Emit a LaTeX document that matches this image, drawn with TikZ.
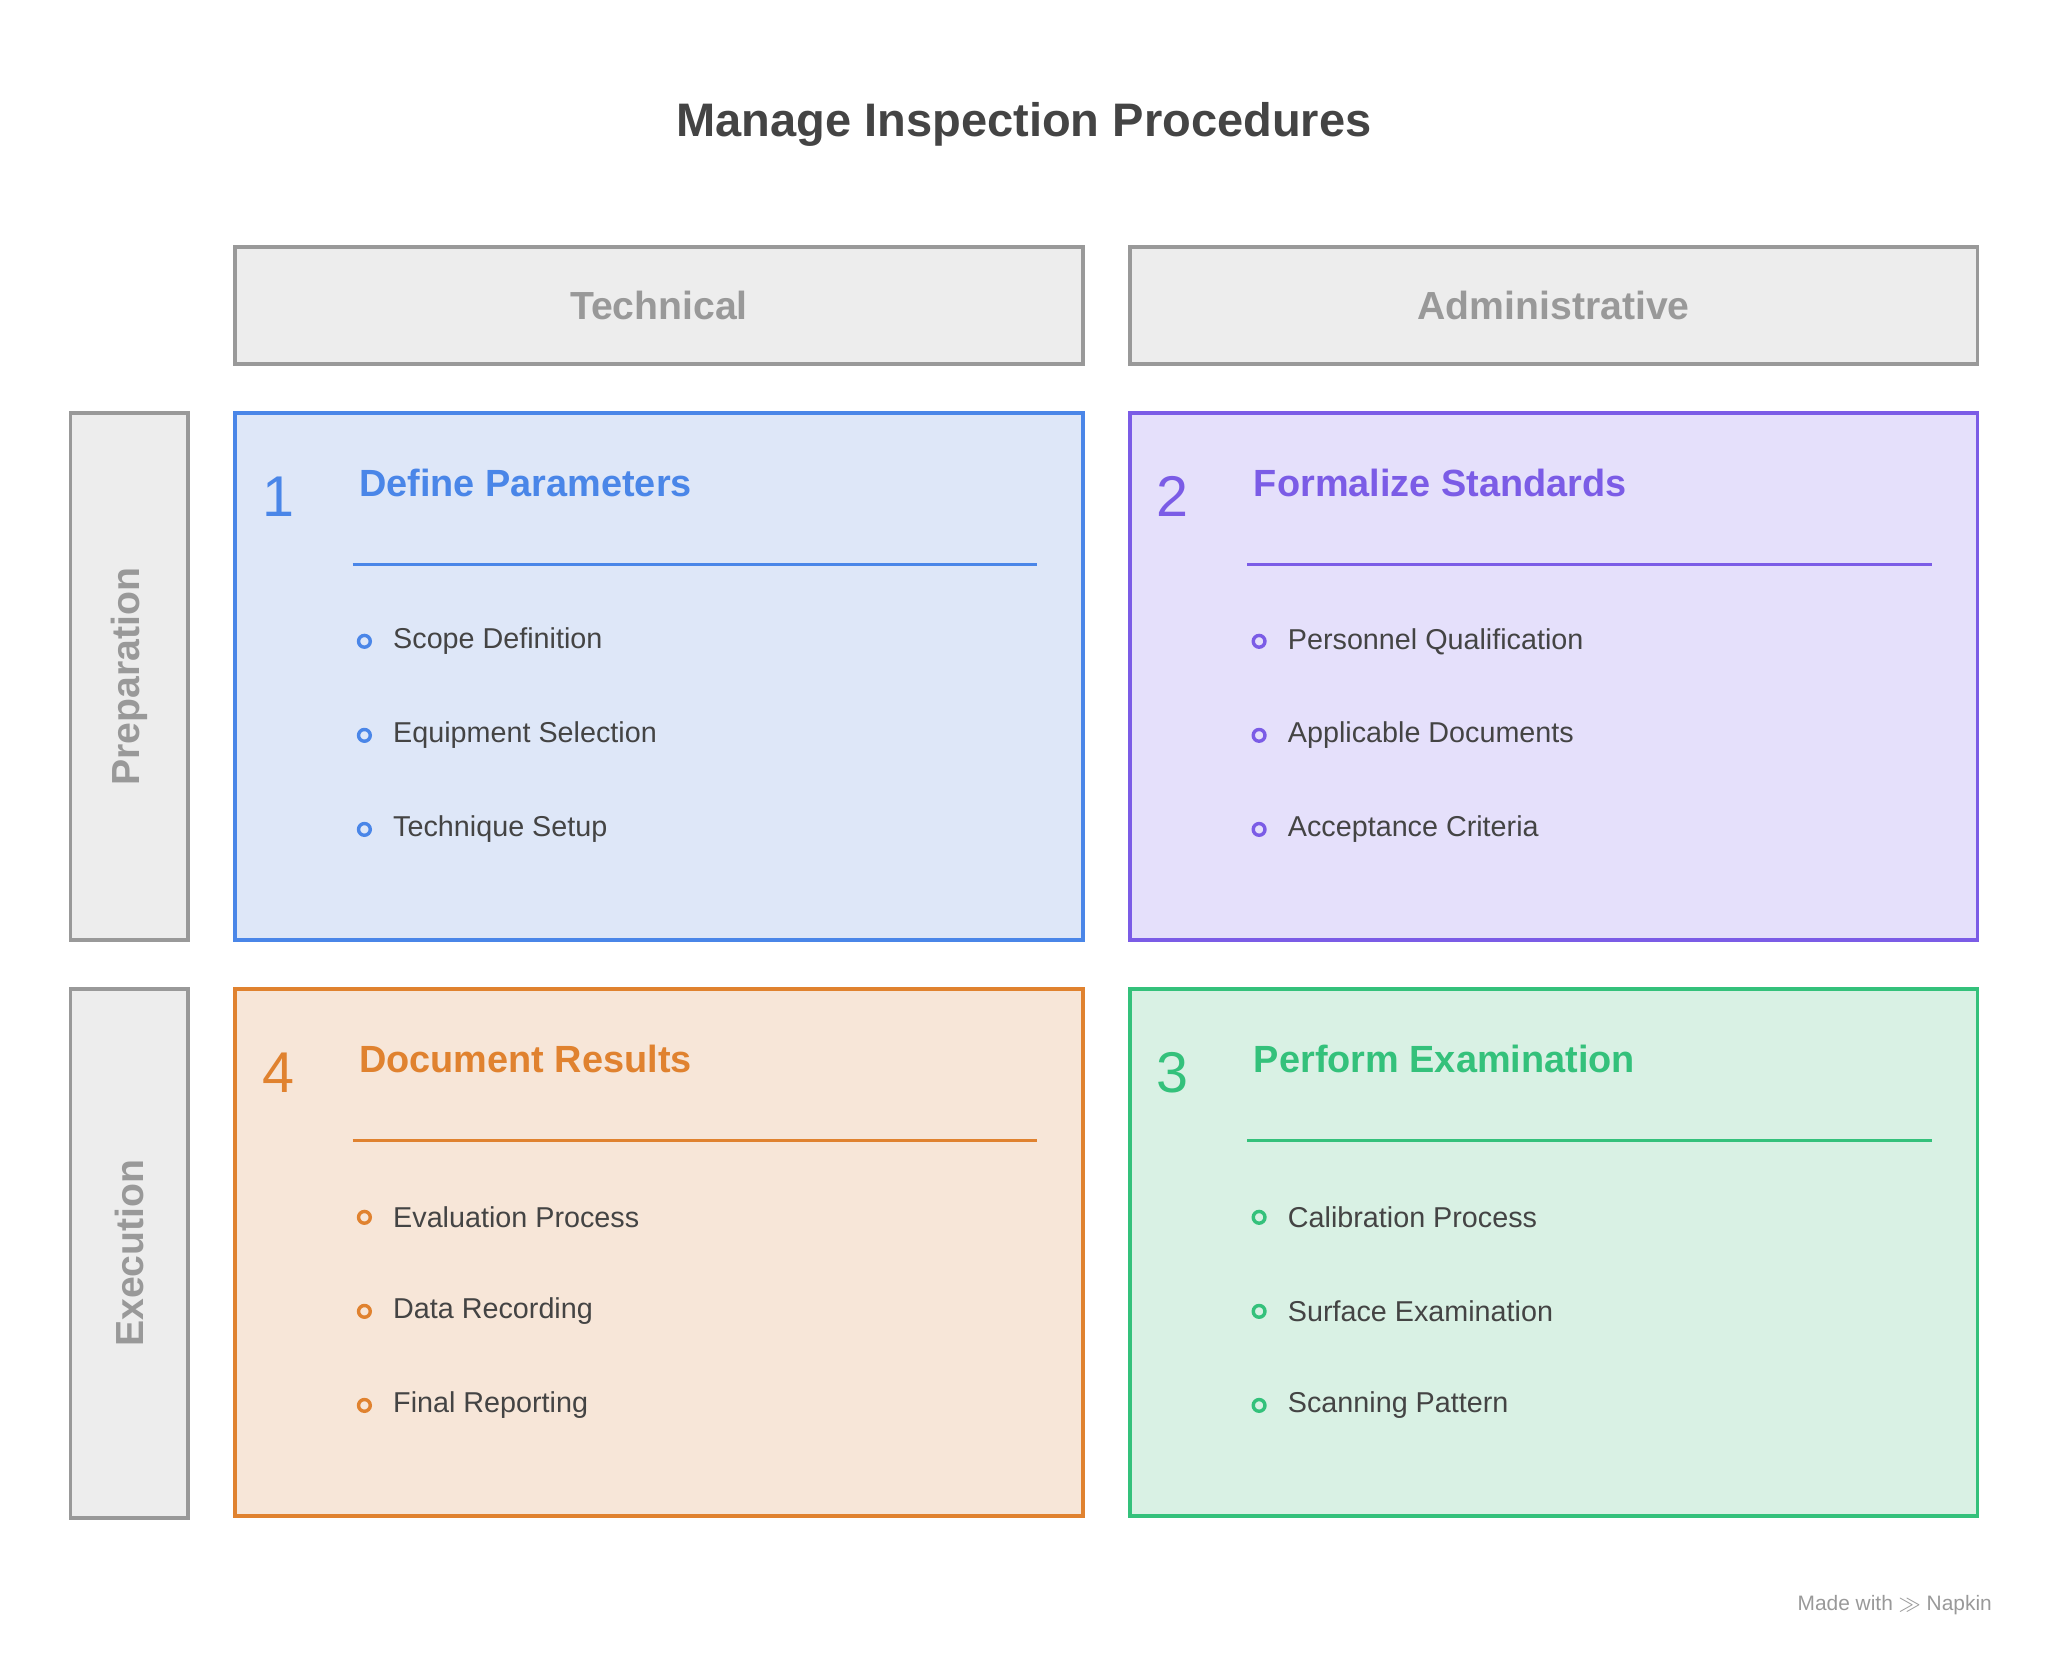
\documentclass[tikz,border=0pt]{standalone}
\usepackage{fontspec}
\setmainfont{Liberation Sans}
\usetikzlibrary{positioning}
\definecolor{techblue}{HTML}{4A86E8}
\definecolor{techfill}{HTML}{DEE7F8}
\definecolor{admpurple}{HTML}{7B5CE6}
\definecolor{admfill}{HTML}{E5E0FB}
\definecolor{docorange}{HTML}{E0822F}
\definecolor{docfill}{HTML}{F7E6D8}
\definecolor{exgreen}{HTML}{34C17B}
\definecolor{exfill}{HTML}{D9F1E4}
\definecolor{hdrgray}{HTML}{999999}
\definecolor{hdrfill}{HTML}{EDEDED}
\definecolor{txtgray}{HTML}{444444}
\tikzset{
  header/.style={ % column and row headers
    draw=hdrgray, fill=hdrfill, line width=1.5pt, text=hdrgray,
    font=\bfseries\fontsize{15}{18}\selectfont, inner sep=0pt
  },
  quad/.style={ % one quadrant box
    draw=#1, line width=1.5pt, inner sep=0pt
  },
  qnum/.style={font=\fontsize{22}{26}\selectfont, anchor=center},
  qtitle/.style={font=\bfseries\fontsize{14.5}{18}\selectfont, anchor=west},
  item/.style={font=\fontsize{11}{14}\selectfont, text=txtgray, anchor=west},
  dot/.style={circle, draw=#1, line width=1.3pt, minimum size=4.5pt, inner sep=0pt}
}
\begin{document}
\begin{tikzpicture}[x=0.5pt,y=-0.5pt]
  \useasboundingbox (0,0) rectangle (1568,1270);
  \node[font=\bfseries\fontsize{18}{22}\selectfont, text=txtgray] (title) at (784,95) {Manage Inspection Procedures};

  % column headers
  \node[header, minimum width=324.5pt, minimum height=45pt] (tech) at (504.5,234) {Technical};
  \node[header, minimum width=324.5pt, minimum height=45pt] (adm) at (1189.5,234) {Administrative};
  % row headers
  \node[header, minimum width=45pt, minimum height=202pt] (prep) at (99,518) {};
  \node[header, rotate=90, draw=none, fill=none] at (prep) {Preparation};
  \node[header, minimum width=45pt, minimum height=202.5pt] (exec) at (99,959.5) {};
  \node[header, rotate=90, draw=none, fill=none] at (exec) {Execution};

  % quadrants: x, y, colour, fill, number, title, items
  \foreach \x/\y/\c/\f/\n/\t/\ia/\ib/\ic in {
      180/316/techblue/techfill/1/Define Parameters/Scope Definition/Equipment Selection/Technique Setup,
      865/316/admpurple/admfill/2/Formalize Standards/Personnel Qualification/Applicable Documents/Acceptance Criteria,
      180/757/docorange/docfill/4/Document Results/Evaluation Process/Data Recording/Final Reporting,
      865/757/exgreen/exfill/3/Perform Examination/Calibration Process/Surface Examination/Scanning Pattern}{
    \draw[quad=\c, fill=\f] (\x,\y) rectangle ++(649,404);
    \node[qnum, text=\c] (num\n) at (\x+33,\y+64) {\n};
    \node[qtitle, text=\c] (head\n) at (\x+88,\y+54) {\t};
    \draw[\c, line width=1.3pt] (\x+90,\y+116) -- (\x+614,\y+116);
    \foreach \k/\s in {0/\ia,1/\ib,2/\ic}{
      \node[dot=\c] (b\n\k) at (\x+99,\y+175+72*\k) {};
      \node[item] (t\n\k) at (\x+114,\y+175+72*\k) {\s};
    }
  }

  \node[font=\fontsize{8}{10}\selectfont, text=hdrgray, anchor=east] (mark) at (1532,1229) {Made with $\gg$ Napkin};
\end{tikzpicture}
\end{document}
